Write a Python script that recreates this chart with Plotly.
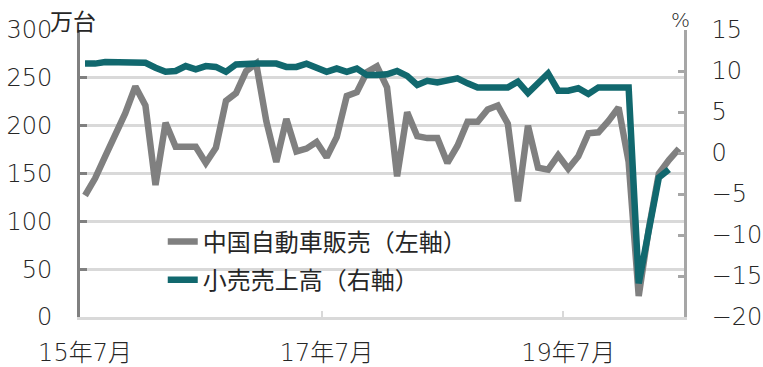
import plotly.graph_objects as go

months = [f"{y}-{m:02d}" for y in range(2015, 2021) for m in range(1, 13)]
months = months[6:66]  # 2015-07 .. 2020-06

tick_labels = ["15年7月", "17年7月", "19年7月"]
tick_months = ["2015-07", "2017-07", "2019-07"]

auto_sales = [127, 145, 168, 190, 213, 241, 221, 138, 203, 178,
              178, 178, 161, 177, 226, 234, 257, 265, 205, 162,
              207, 173, 176, 183, 167, 188, 231, 235, 256, 262,
              240, 147, 214, 189, 187, 187, 161, 179, 204, 204,
              217, 221, 202, 121, 200, 156, 154, 169, 155, 168,
              192, 193, 205, 219, 162, 22, 92, 150, 164, 176]

retail_sales = [10.9, 10.9, 11.1, 11.1, 11.1, 11.1, 11.0, 10.4, 9.9, 10.0,
                10.6, 10.2, 10.6, 10.5, 9.9, 10.8, 10.9, 10.9, 10.9, 10.9,
                10.5, 10.5, 10.9, 10.3, 9.9, 10.3, 9.9, 10.3, 9.5, 9.5,
                9.6, 10.0, 9.4, 8.3, 8.8, 8.6, 8.8, 9.1, 8.5, 8.0,
                8.0, 8.0, 8.0, 8.7, 7.3, 8.5, 9.7, 7.6, 7.6, 7.9,
                7.2, 8.0, 8.0, 8.0, 8.0, -15.9, -9.5, -3.0, -2.0, None]

name_auto = "中国自動車販売（左軸）"
name_retail = "小売売上高（右軸）"

x_idx = list(range(len(months)))
tickvals = [months.index(m) for m in tick_months]

CJK = "Noto Sans CJK JP"
TICKFONT = dict(family="DejaVu Sans, Noto Sans CJK JP", size=24, color="#262626", weight=300)
GRAY = "#808080"
TEAL = "#11686e"
GRID = "#d9d9d9"
TXT = "#262626"

fig = go.Figure()
fig.add_trace(go.Scatter(x=x_idx, y=auto_sales, name=name_auto, mode="lines",
                         legendgroup="a",
                         line=dict(color=GRAY, width=6.5), yaxis="y"))
fig.add_trace(go.Scatter(x=x_idx, y=retail_sales, name=name_retail, mode="lines",
                         legendgroup="b",
                         line=dict(color=TEAL, width=6.5), yaxis="y2"))

fig.update_layout(
    width=763, height=367,
    margin=dict(l=80, r=79, t=30, b=50),
    paper_bgcolor="white", plot_bgcolor="white",
    font=dict(family=CJK, size=24, color=TXT),
    showlegend=True,
    legend=dict(x=0.137, y=0.34, xanchor="left", yanchor="top",
                bgcolor="rgba(0,0,0,0)", font=dict(size=24, color=TXT, family=CJK),
                traceorder="grouped", tracegroupgap=4, itemwidth=30),
    xaxis=dict(range=[-0.5, len(months) - 0.5], tickmode="array",
               tickvals=tickvals, ticktext=tick_labels, ticks="",
               showgrid=False, zeroline=False, showline=True, automargin=False,
               linecolor=GRID, linewidth=3, ticklabelstandoff=12, tickfont=TICKFONT,
               minor=dict(tickmode="array", tickvals=[23.5, 47.5], ticks="inside",
                          ticklen=6, tickcolor=GRID, tickwidth=2, showgrid=False)),
    yaxis=dict(range=[0, 300], dtick=50, tick0=0, showgrid=True, gridcolor=GRID,
               gridwidth=2.5, zeroline=False, showline=True, linecolor=GRAY,
               linewidth=3, ticks="inside", ticklen=7, tickcolor=GRAY, tickwidth=3,
               ticklabelstandoff=20, automargin=False, tickfont=TICKFONT),
    yaxis2=dict(range=[-20, 15], dtick=5, tick0=0, overlaying="y", side="right",
                showgrid=False, zeroline=False, showline=True, linecolor="#a6a6a6",
                linewidth=2.5, ticks="inside", ticklen=6, tickcolor="#a6a6a6",
                tickwidth=2.5, ticklabelstandoff=20, automargin=False, tickfont=TICKFONT),
    annotations=[
        dict(text="万台", xref="paper", yref="paper", x=-0.0116, y=1.1025,
             xanchor="center", yanchor="top", showarrow=False,
             font=dict(size=23, color=TXT, family=CJK)),
        dict(text="%", xref="paper", yref="paper", x=0.9934, y=1.0348,
             xanchor="center", yanchor="middle", showarrow=False,
             font=dict(size=20, color=TXT, family="DejaVu Sans", weight=300)),
    ],
)

fig.write_html("out.html")
